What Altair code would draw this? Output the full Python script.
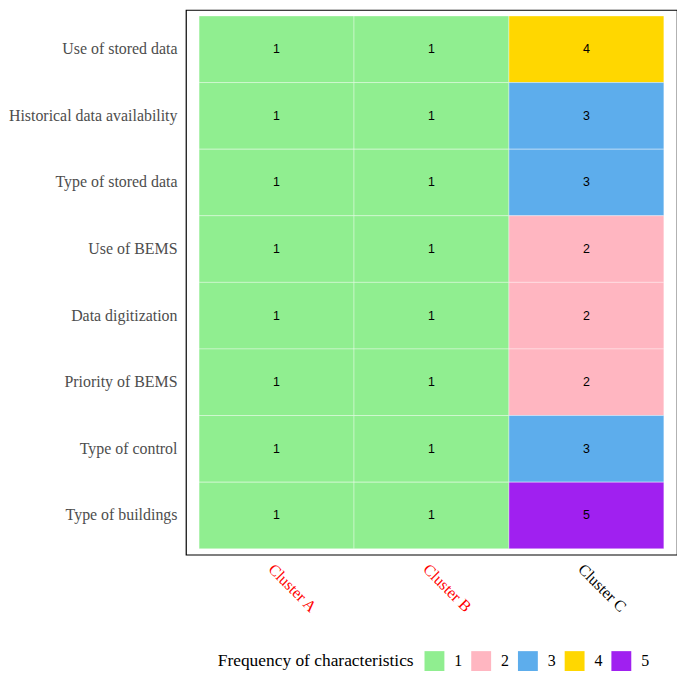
import altair as alt
import pandas as pd

characteristics = ["Use of stored data", "Historical data availability", "Type of stored data",
                   "Use of BEMS", "Data digitization", "Priority of BEMS", "Type of control",
                   "Type of buildings"]
clusters = ["Cluster A", "Cluster B", "Cluster C"]
cluster_a = [1, 1, 1, 1, 1, 1, 1, 1]
cluster_b = [1, 1, 1, 1, 1, 1, 1, 1]
cluster_c = [4, 3, 3, 2, 2, 2, 3, 5]
levels = ["1", "2", "3", "4", "5"]
colors = ["#90EE90", "#FFB6C1", "#5DADEC", "#FFD700", "#A020F0"]

rows = []
for i, ch in enumerate(characteristics):
    for cl, vals in zip(clusters, [cluster_a, cluster_b, cluster_c]):
        rows.append({"char": ch, "cluster": cl, "freq": str(vals[i])})
df = pd.DataFrame(rows)

x = alt.X("cluster:N", sort=clusters, title=None,
          scale=alt.Scale(paddingInner=0, paddingOuter=0.085),
          axis=alt.Axis(labelAngle=45, labelAlign="left", labelBaseline="top",
                        labelFont="Liberation Serif", labelFontSize=16, labelPadding=6,
                        ticks=False, domain=False,
                        labelColor=alt.condition("datum.value == 'Cluster C'",
                                                 alt.value("black"), alt.value("red"))))
y = alt.Y("char:N", sort=characteristics, title=None,
          scale=alt.Scale(paddingInner=0, paddingOuter=0.09),
          axis=alt.Axis(labelFont="Liberation Serif", labelFontSize=16, labelColor="#4D4D4D",
                        labelPadding=9, ticks=False, domain=False))

tiles = alt.Chart(df).mark_rect(stroke="white", strokeWidth=0.6, strokeOpacity=0.6).encode(
    x=x, y=y,
    color=alt.Color("freq:N", scale=alt.Scale(domain=levels, range=colors),
                    legend=alt.Legend(title="Frequency of characteristics", orient="none",
                                      legendX=32, legendY=645,
                                      direction="horizontal", titleOrient="left",
                                      titleFont="Liberation Serif", titleFontSize=17.5,
                                      titleFontWeight="normal", titleColor="black",
                                      titleLimit=400,
                                      labelFont="Liberation Serif", labelFontSize=16,
                                      labelColor="black", symbolType="square",
                                      symbolSize=400, symbolStrokeWidth=0,
                                      columnPadding=9, labelOffset=10,
                                      titlePadding=10))
)
text = alt.Chart(df).mark_text(font="Liberation Sans", fontSize=12.5, color="black").encode(
    x=alt.X("cluster:N", sort=clusters), y=alt.Y("char:N", sort=characteristics), text="freq:N")

chart = (tiles + text).properties(width=494, height=548, padding={"left": 0, "top": 0, "right": 0, "bottom": 0}).configure_view(
    stroke="black", strokeWidth=1.2)

chart.save("out.html", embed_options={"renderer": "svg", "actions": False})
